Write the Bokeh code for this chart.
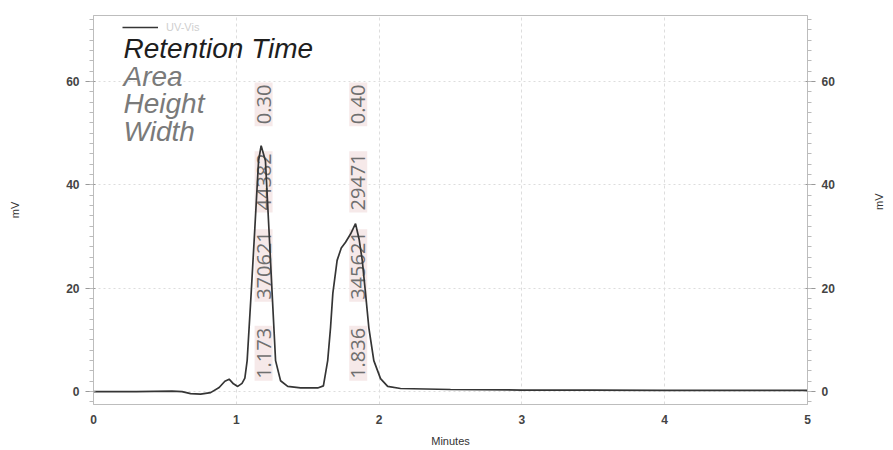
import numpy as np
from bokeh.plotting import figure
from bokeh.models import (ColumnDataSource, LinearAxis, Range1d, Label, Legend, LegendItem,
                          FixedTicker)
from bokeh.core.properties import value
from bokeh.embed import file_html
from bokeh.resources import INLINE

# ---- data ----
time_min = [0.0, 0.3, 0.55, 0.62, 0.68, 0.75, 0.82, 0.88, 0.92, 0.95, 0.98, 1.01, 1.04,
            1.06, 1.076, 1.104, 1.13, 1.156, 1.174, 1.204, 1.228, 1.251, 1.275, 1.31, 1.36,
            1.45, 1.57, 1.61, 1.64, 1.66, 1.676, 1.706, 1.735, 1.765, 1.80, 1.835, 1.86,
            1.882, 1.905, 1.928, 1.963, 2.01, 2.06, 2.15, 2.5, 3.0, 3.5, 4.0, 5.0]
signal_mv = [0.0, 0.0, 0.1, 0.0, -0.4, -0.5, -0.2, 0.8, 2.0, 2.4, 1.5, 1.0, 1.6,
             2.6, 6.0, 19.0, 31.7, 44.7, 47.6, 44.7, 31.7, 19.0, 6.0, 2.1, 1.0,
             0.7, 0.7, 1.1, 6.0, 12.4, 19.0, 25.4, 27.8, 28.9, 30.5, 32.5, 29.5,
             25.4, 19.0, 12.4, 6.0, 2.5, 1.0, 0.6, 0.4, 0.3, 0.3, 0.25, 0.25]

peak_rt = [1.173, 1.836]
peak_area = [370621, 345621]
peak_height = [44382, 29471]
peak_width = [0.30, 0.40]

x_ticks = [0, 1, 2, 3, 4, 5]
y_ticks = [0, 20, 40, 60]
legend_fields = ["Retention Time", "Area", "Height", "Width"]

FW, FH = 714, 389

# ---- figure ----
p = figure(frame_width=FW, frame_height=FH, output_backend="svg", toolbar_location=None,
           x_range=Range1d(0, 5), y_range=Range1d(-2.5, 72.8),
           min_border_left=93, min_border_right=78, min_border_top=15, min_border_bottom=42)
p.background_fill_color = "white"
p.border_fill_color = "white"
p.outline_line_color = "#bdbdbd"
p.outline_line_width = 1

# grids
p.xgrid.ticker = FixedTicker(ticks=x_ticks)
p.ygrid.ticker = FixedTicker(ticks=y_ticks)
p.xgrid.grid_line_color = "#dddddd"
p.xgrid.grid_line_dash = "3 3"
p.ygrid.grid_line_color = "#dddddd"
p.ygrid.grid_line_dash = "2 3"

def style_axis(ax):
    ax.axis_line_color = "#bdbdbd"
    ax.major_tick_line_color = "#999999"
    ax.minor_tick_line_color = "#bbbbbb"
    ax.major_label_text_color = "#444444"
    ax.major_label_text_font = "Liberation Sans"
    ax.major_label_text_font_style = "bold"
    ax.major_label_text_font_size = "12px"
    ax.axis_label_text_font = "Liberation Sans"
    ax.axis_label_text_font_style = "normal"
    ax.axis_label_text_font_size = "11px"
    ax.axis_label_text_color = "#333333"

xa = p.xaxis[0]
xa.ticker = FixedTicker(ticks=x_ticks)
xa.axis_label = "Minutes"
style_axis(xa)
xa.major_tick_out = 0
xa.major_tick_in = 0
xa.minor_tick_out = 0
xa.major_label_standoff = 10
xa.axis_label_standoff = 8

minor = list(range(-2, 73, 2))
ya = p.yaxis[0]
ya.ticker = FixedTicker(ticks=y_ticks, minor_ticks=minor)
ya.axis_label = "mV"
style_axis(ya)
ya.major_tick_out = 8
ya.minor_tick_out = 4
ya.major_label_standoff = 6
ya.axis_label_standoff = 42

ra = LinearAxis(axis_label="mV")
ra.ticker = FixedTicker(ticks=y_ticks, minor_ticks=minor)
style_axis(ra)
ra.major_tick_out = 8
ra.minor_tick_out = 4
ra.major_label_standoff = 6
ra.axis_label_standoff = 41
try:
    ra.axis_label_orientation = np.pi / 2
except Exception:
    pass
p.add_layout(ra, "right")

# ---- peak annotation boxes ----
label_slots = [7.4, 24.4, 40.6, 55.6]  # layout positions along the peak label column
ax_, ay_, at_ = [], [], []
for rt, ar, ht, wd in zip(peak_rt, peak_area, peak_height, peak_width):
    texts = [f"{rt:.3f}", f"{ar}", f"{ht}", f"{wd:.2f}"]
    for s, t in zip(label_slots, texts):
        ax_.append(rt + 0.018)
        ay_.append(s)
        at_.append(t)
ann = ColumnDataSource(dict(x=ax_, y=ay_, text=at_))
p.text(x="x", y="y", text="text", source=ann, angle=np.pi / 2,
       text_align="center", text_baseline="middle",
       text_font=value("Open Sans"), text_font_size="20px", text_color="#6f6f6f",
       background_fill_color="#f6e9e9", background_fill_alpha=1.0, padding=2)

# ---- trace ----
src = ColumnDataSource(dict(t=time_min, mv=signal_mv))
trace = p.line("t", "mv", source=src, line_color="#353535", line_width=1.7)

legend = Legend(items=[LegendItem(label="UV-Vis", renderers=[trace])],
                location=(29, 367), orientation="vertical",
                background_fill_alpha=0, border_line_alpha=0,
                padding=0, margin=0, spacing=0,
                glyph_width=36, glyph_height=20, label_height=20,
                label_text_font="Liberation Sans", label_text_font_size="11px",
                label_text_color="#cfcfcf", label_standoff=8)
p.add_layout(legend, "center")

field_y = [356, 328, 301, 273]
field_colors = ["#1e1e1e", "#7a7a7a", "#7a7a7a", "#7a7a7a"]
for name, yy, col in zip(legend_fields, field_y, field_colors):
    p.add_layout(Label(x=30, y=yy, x_units="screen", y_units="screen", text=name,
                       text_font="Liberation Sans", text_font_style="italic",
                       text_font_size="28px", text_color=col, text_baseline="middle"))

open("out.html", "w").write(file_html(p, INLINE))
